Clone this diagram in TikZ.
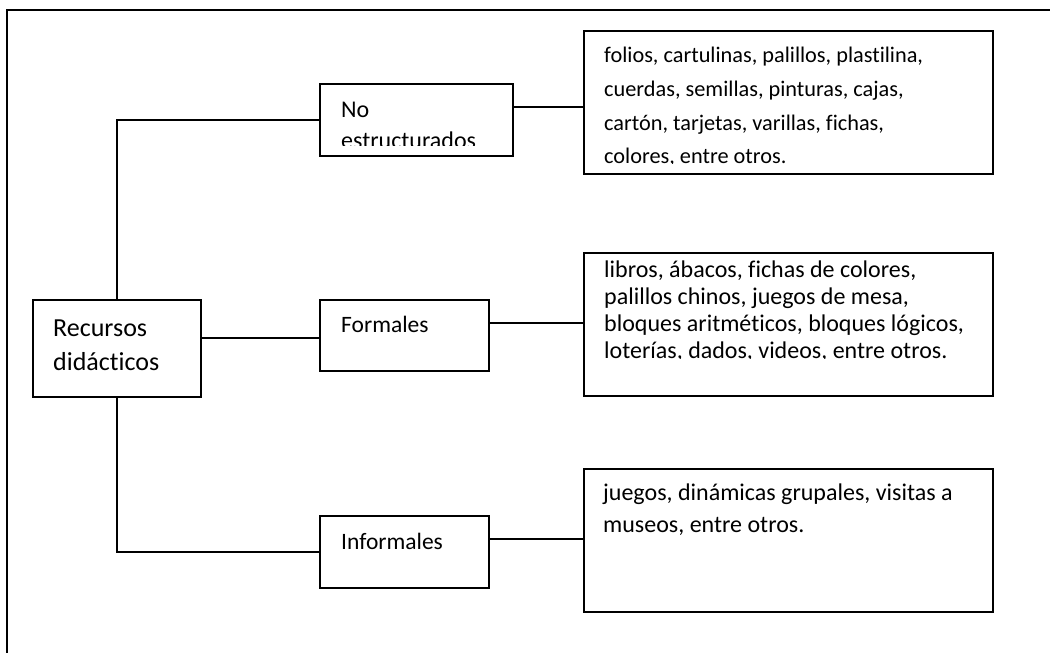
\documentclass[tikz,border=0pt]{standalone}
\usepackage{fontspec}
\setmainfont{Carlito}[Ligatures=NoCommon]
\begin{document}
\begin{tikzpicture}[x=1pt,y=-1pt,
  box/.style={draw,line width=1.6pt,inner sep=0pt,anchor=north west},
  txt/.style={anchor=base west,inner sep=0pt,font=\fontsize{23.5}{28}\selectfont},
  big/.style={txt,font=\fontsize{26}{30}\selectfont},
  small/.style={txt,font=\fontsize{22.3}{28}\selectfont},
  wide/.style={txt,font=\fontsize{24}{28}\selectfont},
  link/.style={line width=1.6pt}]
\useasboundingbox (0,0) rectangle (1050,653);
% outer frame (runs off the picture at right and bottom)
\draw[line width=2pt] (7,670) -- (7,10) -- (1070,10);
% boxes
\node[box,minimum width=168pt,minimum height=97pt] (main) at (32,299) {};
\node[box,minimum width=193pt,minimum height=72pt] (noest) at (319,83) {};
\node[box,minimum width=169pt,minimum height=71pt] (form) at (319,299) {};
\node[box,minimum width=169pt,minimum height=72pt] (inf) at (319,515) {};
\node[box,minimum width=409pt,minimum height=143pt] (b1) at (583,30) {};
\node[box,minimum width=409pt,minimum height=143pt] (b2) at (583,252) {};
\node[box,minimum width=409pt,minimum height=143pt] (b3) at (583,468) {};
% connectors
\draw[link] (main.north) |- (noest.west);
\draw[link] (main.south) |- (inf.west);
\coordinate (c1) at (200,338);
\draw[link] (main.east |- c1) -- (form.west |- c1);
\coordinate (c2) at (0,107);
\draw[link] (noest.east |- c2) -- (b1.west |- c2);
\coordinate (c3) at (0,323);
\draw[link] (form.east |- c3) -- (b2.west |- c3);
\coordinate (c4) at (0,539);
\draw[link] (inf.east |- c4) -- (b3.west |- c4);
% texts
\node[big] (mainA) at (53,336) {Recursos};
\node[big] (mainB) at (53,370) {didácticos};
\begin{scope}
\clip (320,84) rectangle (511,145);
\node[wide] (noA) at (341,117) {No};
\node[wide] (noB) at (341,148) {estructurados};
\end{scope}
\node[txt] (formA) at (341,332) {Formales};
\node[txt] (infA) at (341,549) {Informales};
\begin{scope}
\clip (584,31) rectangle (991,163);
\node[small] (b1a) at (604,62) {folios, cartulinas, palillos, plastilina,};
\node[small] (b1b) at (604,96) {cuerdas, semillas, pinturas, cajas,};
\node[small] (b1c) at (604,130) {cartón, tarjetas, varillas, fichas,};
\node[small] (b1d) at (604,163) {colores, entre otros.};
\end{scope}
\begin{scope}
\clip (584,253) rectangle (991,358);
\node[wide] (b2a) at (604,277) {libros, ábacos, fichas de colores,};
\node[wide] (b2b) at (604,304) {palillos chinos, juegos de mesa,};
\node[wide] (b2c) at (604,331) {bloques aritméticos, bloques lógicos,};
\node[wide] (b2d) at (604,358) {loterías, dados, videos, entre otros.};
\end{scope}
\node[wide] (b3a) at (603,500) {juegos, dinámicas grupales, visitas a};
\node[wide] (b3b) at (603,532) {museos, entre otros.};
\end{tikzpicture}
\end{document}
